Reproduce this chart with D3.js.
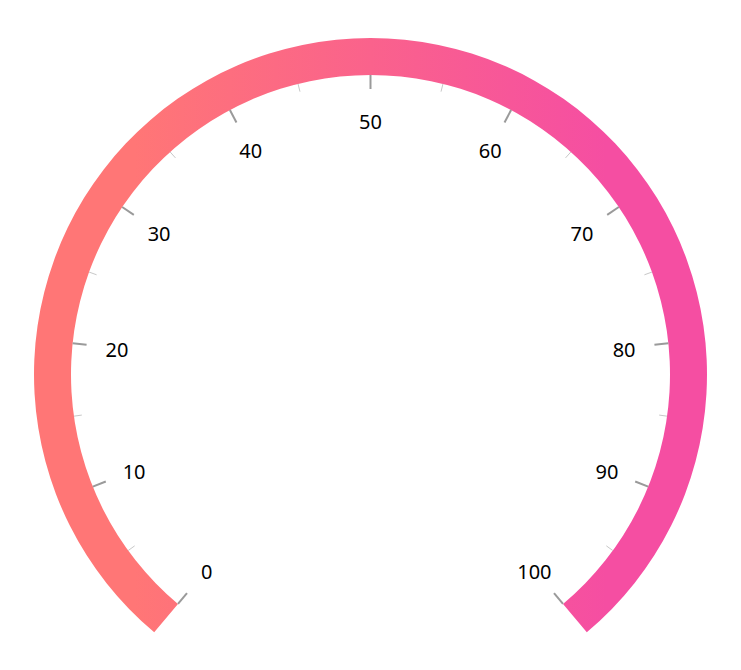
<!DOCTYPE html>
<html>
<head>
<meta charset="utf-8">
<script src="https://cdn.jsdelivr.net/npm/d3@7"></script>
<style>
  html, body { margin: 0; padding: 0; background: #fff; }
  svg { display: block; }
</style>
</head>
<body>
<svg id="chart" width="741" height="670"></svg>
<script>
// Axis data
const axisMinimum = 0;
const axisMaximum = 100;
const majorTicks = [0, 10, 20, 30, 40, 50, 60, 70, 80, 90, 100];
const minorTicks = [5, 15, 25, 35, 45, 55, 65, 75, 85, 95];
const tickLabels = ["0", "10", "20", "30", "40", "50", "60", "70", "80", "90", "100"];
const rangeStart = [0];
const rangeEnd = [100];
const gradientColors = ["#FF7676", "#F54EA2"];
const gradientOffsets = [0.15, 0.85];

const svg = d3.select("#chart");
const cx = 370.5, cy = 374.5;
const outerR = 336.5, innerR = 299.5;
const majorLen = 14, minorLen = 8;
const labelR = 255;

const angle = d3.scaleLinear().domain([axisMinimum, axisMaximum]).range([-140, 140]);
const rad = d => angle(d) * Math.PI / 180;

const defs = svg.append("defs");
const grad = defs.append("linearGradient")
  .attr("id", "rangeGrad")
  .attr("gradientUnits", "userSpaceOnUse")
  .attr("x1", -outerR).attr("y1", 0)
  .attr("x2", outerR).attr("y2", 0);
grad.selectAll("stop").data(gradientColors).join("stop")
  .attr("offset", (d, i) => gradientOffsets[i])
  .attr("stop-color", d => d);

const g = svg.append("g").attr("transform", `translate(${cx},${cy})`);

const arc = d3.arc().innerRadius(innerR).outerRadius(outerR);
g.append("path")
  .datum({ startAngle: rad(rangeStart[0]), endAngle: rad(rangeEnd[0]) })
  .attr("d", arc)
  .attr("fill", "url(#rangeGrad)");

// minor ticks
g.selectAll("line.minor").data(minorTicks).join("line")
  .attr("class", "minor")
  .attr("x1", d => innerR * Math.sin(rad(d)))
  .attr("y1", d => -innerR * Math.cos(rad(d)))
  .attr("x2", d => (innerR - minorLen) * Math.sin(rad(d)))
  .attr("y2", d => -(innerR - minorLen) * Math.cos(rad(d)))
  .attr("stroke", "#c8c8c8")
  .attr("stroke-width", 1);

// major ticks
g.selectAll("line.major").data(majorTicks).join("line")
  .attr("class", "major")
  .attr("x1", d => innerR * Math.sin(rad(d)))
  .attr("y1", d => -innerR * Math.cos(rad(d)))
  .attr("x2", d => (innerR - majorLen) * Math.sin(rad(d)))
  .attr("y2", d => -(innerR - majorLen) * Math.cos(rad(d)))
  .attr("stroke", "#9a9a9a")
  .attr("stroke-width", 2);

// labels
g.selectAll("text.label").data(majorTicks).join("text")
  .attr("class", "label")
  .attr("x", d => labelR * Math.sin(rad(d)))
  .attr("y", d => -labelR * Math.cos(rad(d)) + 1.5)
  .attr("text-anchor", "middle")
  .attr("dominant-baseline", "central")
  .attr("font-family", "'Noto Sans', 'Open Sans', sans-serif")
  .attr("font-size", 20)
  .attr("fill", "#000")
  .text((d, i) => tickLabels[i]);
</script>
</body>
</html>
